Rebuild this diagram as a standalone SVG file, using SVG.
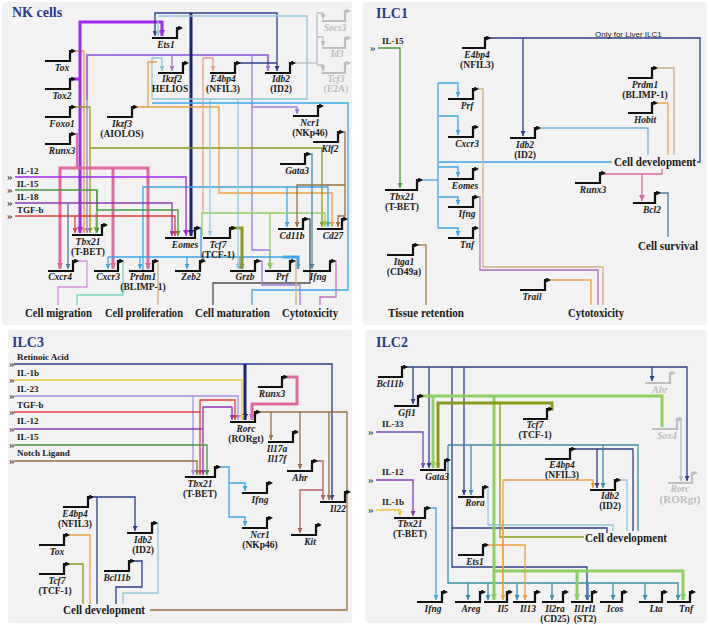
<svg xmlns="http://www.w3.org/2000/svg" width="709" height="625" viewBox="0 0 709 625">
<defs>
<marker id="pa" viewBox="0 0 6 6" refX="1" refY="3" markerWidth="5" markerHeight="5" markerUnits="userSpaceOnUse" orient="auto"><path d="M0,0L6,3L0,6z" fill="#111"/></marker>
<marker id="pg" viewBox="0 0 6 6" refX="1" refY="3" markerWidth="5" markerHeight="5" markerUnits="userSpaceOnUse" orient="auto"><path d="M0,0L6,3L0,6z" fill="#bdbdbd"/></marker>
<marker id="m-navy" viewBox="0 0 6 6" refX="6" refY="3" markerWidth="5" markerHeight="5" markerUnits="userSpaceOnUse" orient="auto"><path d="M0,0L6,3L0,6z" fill="#2c3e8c"/></marker>
<marker id="m-dnavy" viewBox="0 0 6 6" refX="6" refY="3" markerWidth="6" markerHeight="6" markerUnits="userSpaceOnUse" orient="auto"><path d="M0,0L6,3L0,6z" fill="#1b2470"/></marker>
<marker id="m-lb" viewBox="0 0 6 6" refX="6" refY="3" markerWidth="5" markerHeight="5" markerUnits="userSpaceOnUse" orient="auto"><path d="M0,0L6,3L0,6z" fill="#3ea6e6"/></marker>
<marker id="m-pb" viewBox="0 0 6 6" refX="6" refY="3" markerWidth="5" markerHeight="5" markerUnits="userSpaceOnUse" orient="auto"><path d="M0,0L6,3L0,6z" fill="#8ec8d8"/></marker>
<marker id="m-or" viewBox="0 0 6 6" refX="6" refY="3" markerWidth="5" markerHeight="5" markerUnits="userSpaceOnUse" orient="auto"><path d="M0,0L6,3L0,6z" fill="#f0a040"/></marker>
<marker id="m-ol" viewBox="0 0 6 6" refX="6" refY="3" markerWidth="5" markerHeight="5" markerUnits="userSpaceOnUse" orient="auto"><path d="M0,0L6,3L0,6z" fill="#8a9a1a"/></marker>
<marker id="m-pk" viewBox="0 0 6 6" refX="6" refY="3" markerWidth="6" markerHeight="6" markerUnits="userSpaceOnUse" orient="auto"><path d="M0,0L6,3L0,6z" fill="#e06aa0"/></marker>
<marker id="m-vi" viewBox="0 0 6 6" refX="6" refY="3" markerWidth="6" markerHeight="6" markerUnits="userSpaceOnUse" orient="auto"><path d="M0,0L6,3L0,6z" fill="#a028f0"/></marker>
<marker id="m-li" viewBox="0 0 6 6" refX="6" refY="3" markerWidth="5" markerHeight="5" markerUnits="userSpaceOnUse" orient="auto"><path d="M0,0L6,3L0,6z" fill="#a078e0"/></marker>
<marker id="m-rd" viewBox="0 0 6 6" refX="6" refY="3" markerWidth="5" markerHeight="5" markerUnits="userSpaceOnUse" orient="auto"><path d="M0,0L6,3L0,6z" fill="#e03c3c"/></marker>
<marker id="m-gn" viewBox="0 0 6 6" refX="6" refY="3" markerWidth="5" markerHeight="5" markerUnits="userSpaceOnUse" orient="auto"><path d="M0,0L6,3L0,6z" fill="#4a9a3a"/></marker>
<marker id="m-pu" viewBox="0 0 6 6" refX="6" refY="3" markerWidth="5" markerHeight="5" markerUnits="userSpaceOnUse" orient="auto"><path d="M0,0L6,3L0,6z" fill="#8a3ab8"/></marker>
<marker id="m-br" viewBox="0 0 6 6" refX="6" refY="3" markerWidth="5" markerHeight="5" markerUnits="userSpaceOnUse" orient="auto"><path d="M0,0L6,3L0,6z" fill="#9a7040"/></marker>
<marker id="m-tn" viewBox="0 0 6 6" refX="6" refY="3" markerWidth="5" markerHeight="5" markerUnits="userSpaceOnUse" orient="auto"><path d="M0,0L6,3L0,6z" fill="#d0b080"/></marker>
<marker id="m-gy" viewBox="0 0 6 6" refX="6" refY="3" markerWidth="5" markerHeight="5" markerUnits="userSpaceOnUse" orient="auto"><path d="M0,0L6,3L0,6z" fill="#b8bcc4"/></marker>
<marker id="m-lg" viewBox="0 0 6 6" refX="6" refY="3" markerWidth="6" markerHeight="6" markerUnits="userSpaceOnUse" orient="auto"><path d="M0,0L6,3L0,6z" fill="#8ed060"/></marker>
<marker id="m-tl" viewBox="0 0 6 6" refX="6" refY="3" markerWidth="5" markerHeight="5" markerUnits="userSpaceOnUse" orient="auto"><path d="M0,0L6,3L0,6z" fill="#3a90a8"/></marker>
<marker id="m-ye" viewBox="0 0 6 6" refX="6" refY="3" markerWidth="5" markerHeight="5" markerUnits="userSpaceOnUse" orient="auto"><path d="M0,0L6,3L0,6z" fill="#f0c840"/></marker>
<marker id="m-mv" viewBox="0 0 6 6" refX="6" refY="3" markerWidth="5" markerHeight="5" markerUnits="userSpaceOnUse" orient="auto"><path d="M0,0L6,3L0,6z" fill="#b06060"/></marker>
<marker id="m-dg" viewBox="0 0 6 6" refX="6" refY="3" markerWidth="5" markerHeight="5" markerUnits="userSpaceOnUse" orient="auto"><path d="M0,0L6,3L0,6z" fill="#505050"/></marker>
<marker id="m-sa" viewBox="0 0 6 6" refX="6" refY="3" markerWidth="5" markerHeight="5" markerUnits="userSpaceOnUse" orient="auto"><path d="M0,0L6,3L0,6z" fill="#eaa08a"/></marker>
<marker id="m-lv" viewBox="0 0 6 6" refX="6" refY="3" markerWidth="5" markerHeight="5" markerUnits="userSpaceOnUse" orient="auto"><path d="M0,0L6,3L0,6z" fill="#a58ee8"/></marker>
<marker id="m-st" viewBox="0 0 6 6" refX="6" refY="3" markerWidth="5" markerHeight="5" markerUnits="userSpaceOnUse" orient="auto"><path d="M0,0L6,3L0,6z" fill="#4a7fa0"/></marker>
<marker id="m-ip" viewBox="0 0 6 6" refX="6" refY="3" markerWidth="5" markerHeight="5" markerUnits="userSpaceOnUse" orient="auto"><path d="M0,0L6,3L0,6z" fill="#7050b0"/></marker>
</defs>
<style>
text{font-family:"Liberation Serif","Times New Roman",serif;font-weight:bold;fill:#1a1a1a}
.bg{fill:#f2f2f2}
.g{fill:none;stroke:#111;stroke-width:2.2;marker-end:url(#pa)}
.gg{fill:none;stroke:#bdbdbd;stroke-width:2.2;marker-end:url(#pg)}
.gl{font-style:italic;font-size:9.5px;text-anchor:middle}
.gp{font-size:9.5px;text-anchor:middle}
.gt{fill:#bdbdbd}
.ttl{font-size:14px;fill:#2a3a8a}
.out{font-size:12px}
.out2{font-size:13px}
.in{font-size:9px}
.ch{font-size:11px;font-weight:normal}
.sans{font-family:"Liberation Sans",Arial,sans-serif;font-size:8px;font-weight:normal}
.c path{fill:none;stroke-width:1.3}
.navy{stroke:#2c3e8c;marker-end:url(#m-navy)}
.dnavy{stroke:#1b2470;marker-end:url(#m-dnavy)}
.lb{stroke:#3ea6e6;marker-end:url(#m-lb)}
.pb{stroke:#8ec8d8;marker-end:url(#m-pb)}
.or{stroke:#f0a040;marker-end:url(#m-or)}
.ol{stroke:#8a9a1a;marker-end:url(#m-ol)}
.pk{stroke:#e06aa0;marker-end:url(#m-pk)}
.vi{stroke:#a028f0;marker-end:url(#m-vi)}
.li{stroke:#a078e0;marker-end:url(#m-li)}
.rd{stroke:#e03c3c;marker-end:url(#m-rd)}
.gn{stroke:#4a9a3a;marker-end:url(#m-gn)}
.pu{stroke:#8a3ab8;marker-end:url(#m-pu)}
.br{stroke:#9a7040;marker-end:url(#m-br)}
.tn{stroke:#d0b080;marker-end:url(#m-tn)}
.gy{stroke:#b8bcc4;marker-end:url(#m-gy)}
.lg{stroke:#8ed060;marker-end:url(#m-lg)}
.tl{stroke:#3a90a8;marker-end:url(#m-tl)}
.ye{stroke:#f0c840;marker-end:url(#m-ye)}
.mv{stroke:#b06060;marker-end:url(#m-mv)}
.dg{stroke:#505050;marker-end:url(#m-dg)}
.sa{stroke:#eaa08a;marker-end:url(#m-sa)}
.lv{stroke:#a58ee8;marker-end:url(#m-lv)}
.st{stroke:#4a7fa0;marker-end:url(#m-st)}
.ip{stroke:#7050b0;marker-end:url(#m-ip)}
.c .w3{stroke-width:3}
.c .w2{stroke-width:2.2}
.c .n{marker-end:none}
</style>
<rect width="709" height="625" fill="#fff"/>
<rect class="bg" x="2" y="2" width="350" height="323" rx="3"/>
<rect class="bg" x="363" y="2" width="344" height="323" rx="3"/>
<rect class="bg" x="8" y="330" width="344" height="293" rx="3"/>
<rect class="bg" x="365" y="330" width="342" height="293" rx="3"/>

<!-- ===== NK cells connectors ===== -->
<g id="nk-connectors" class="c">
<path class="or" d="M73,51H84V233"/>
<path class="vi w3 n" d="M73,79H80"/>
<path class="vi w3" d="M80,60V233"/>
<path class="vi w3" d="M80,60V22H162V36"/>
<path class="ol" d="M73,107H90V233"/>
<path class="pk w2 n" d="M73,134H77V168"/>
<path class="pk w3" d="M77,168H60V269"/>
<path class="pk w3" d="M77,168H148V269"/>
<path class="pk w3" d="M113,168V269"/>
<path class="li" d="M87,100V233"/>
<path class="li w2" d="M87,100V55H268V71"/>
<path class="li" d="M172,55V71"/>
<path class="li" d="M252,55V107H297V114"/>
<path class="li" d="M252,107V250H270V269"/>
<path class="navy" d="M155,20V36"/>
<path class="navy" d="M155,20V13H277V71"/>
<path class="navy n" d="M237,63H277"/>
<path class="dnavy w3" d="M191,13V236"/>
<path class="pb" d="M158,20V36"/>
<path class="pb" d="M158,16H307V99H152V58H162V71"/>
<path class="gy n" d="M292,63H317"/>
<path class="gy n" d="M317,13V65"/>
<path class="gy" d="M317,13H323V19"/>
<path class="gy" d="M317,37H323V46"/>
<path class="gy" d="M317,65H323V71"/>
<path class="sa" d="M203,213V58H213V71"/>
<path class="or" d="M134,107H219V193H332V227"/>
<path class="or n" d="M148,107V62H157"/>
<path class="ol" d="M90,148H322V227"/>
<path class="lb" d="M143,270V187H328V227"/>
<path class="lb" d="M287,187V227"/>
<path class="lg" d="M202,236V213H325V227"/>
<path class="lg" d="M270,213V269"/>
<path class="lg" d="M96,213V233"/>
<path class="gn" d="M15,190H97V233"/>
<path class="gn" d="M97,190V210H178V236"/>
<path class="vi" d="M15,177H186V236"/>
<path class="pu" d="M15,203H172V236"/>
<path class="rd" d="M15,216H175V236"/>
<path class="rd" d="M75,216V233"/>
<path class="st" d="M68,203V269"/>
<path class="br" d="M340,132H345V185H297V227"/>
<path class="br" d="M345,185V216H338V227"/>
<path class="tl" d="M307,154H312V269"/>
<path class="lb n" d="M197,228H201V257"/>
<path class="lb n" d="M108,257H290"/>
<path class="lb" d="M187,257V269"/>
<path class="lb" d="M140,257V269"/>
<path class="lb" d="M108,257V269"/>
<path class="lb" d="M240,257V269"/>
<path class="lb w3" d="M283,257H298V269"/>
<path class="ol w3" d="M232,228H242V269"/>
<path class="pb" d="M210,99V236"/>
<path class="pb" d="M238,99V269"/>
<path class="lb n" d="M152,103H348V290H252V305"/>
<path class="li n" d="M75,261H87V287H58V305" style="stroke:#d890e0"/>
<path class="tl n" d="M120,261H123V295H77V305" style="stroke:#78d8b8"/>
<path class="tn n" d="M155,261H158V305"/>
<path class="dg n" d="M305,219H310V283H213V305"/>
<path class="li n" d="M257,261H262V285H300V305"/>
<path class="tn n" d="M292,261H296V305"/>
<path class="pu n" d="M332,261H336V297H320V305" style="stroke:#c070c8"/>
</g>

<!-- NK nodes -->
<g id="nk-title"><text class="ttl" x="12" y="17">NK cells</text></g>
<g id="nk-il12"><text class="ch" x="7" y="180">»</text><text class="in" x="17" y="174">IL-12</text></g>
<g id="nk-il15"><text class="ch" x="7" y="193">»</text><text class="in" x="17" y="187">IL-15</text></g>
<g id="nk-il18"><text class="ch" x="7" y="206">»</text><text class="in" x="17" y="200">IL-18</text></g>
<g id="nk-tgfb"><text class="ch" x="7" y="219">»</text><text class="in" x="17" y="213">TGF-b</text></g>
<g id="nk-tox"><path class="g" d="M45,61H70V51H72"/><text class="gl" x="62" y="71">Tox</text></g>
<g id="nk-tox2"><path class="g" d="M45,89H70V79H72"/><text class="gl" x="62" y="99">Tox2</text></g>
<g id="nk-foxo1"><path class="g" d="M45,117H70V107H72"/><text class="gl" x="62" y="127">Foxo1</text></g>
<g id="nk-runx3"><path class="g" d="M45,144H70V134H72"/><text class="gl" x="62" y="154">Runx3</text></g>
<g id="nk-ikzf3"><path class="g" d="M107,117H132V107H134"/><text class="gl" x="122" y="127">Ikzf3</text><text class="gp" x="122" y="137">(AIOLOS)</text></g>
<g id="nk-ets1"><path class="g" d="M152,38H177V28H179"/><text class="gl" x="166" y="48">Ets1</text></g>
<g id="nk-ikzf2"><path class="g" d="M158,73H183V63H185"/><text class="gl" x="172" y="82">Ikzf2</text><text class="gp" x="170" y="92">HELIOS</text></g>
<g id="nk-e4bp4"><path class="g" d="M210,73H235V63H237"/><text class="gl" x="223" y="82">E4bp4</text><text class="gp" x="223" y="92">(NFIL3)</text></g>
<g id="nk-idb2"><path class="g" d="M265,73H290V63H292"/><text class="gl" x="281" y="82">Idb2</text><text class="gp" x="281" y="92">(ID2)</text></g>
<g id="nk-socs3"><path class="gg" d="M322,21H345V11H347"/><text class="gl gt" x="335" y="31">Socs3</text></g>
<g id="nk-id3"><path class="gg" d="M322,48H345V38H347"/><text class="gl gt" x="337" y="57">Id3</text></g>
<g id="nk-tcf3"><path class="gg" d="M322,73H345V63H347"/><text class="gl gt" x="336" y="82">Tcf3</text><text class="gp gt" x="336" y="92">(E2A)</text></g>
<g id="nk-ncr1"><path class="g" d="M293,116H318V106H320"/><text class="gl" x="310" y="126">Ncr1</text><text class="gp" x="310" y="136">(NKp46)</text></g>
<g id="nk-klf2"><path class="g" d="M313,142H338V132H340"/><text class="gl" x="330" y="152">Klf2</text></g>
<g id="nk-gata3"><path class="g" d="M280,164H305V154H307"/><text class="gl" x="297" y="174">Gata3</text></g>
<g id="nk-tbx21"><path class="g" d="M72,235H102V225H104"/><text class="gl" x="88" y="245">Tbx21</text><text class="gp" x="88" y="255">(T-BET)</text></g>
<g id="nk-eomes"><path class="g" d="M165,238H195V228H197"/><text class="gl" x="185" y="248">Eomes</text></g>
<g id="nk-tcf7"><path class="g" d="M203,238H230V228H232"/><text class="gl" x="218" y="248">Tcf7</text><text class="gp" x="218" y="258">(TCF-1)</text></g>
<g id="nk-cd11b"><path class="g" d="M278,229H303V219H305"/><text class="gl" x="292" y="239">Cd11b</text></g>
<g id="nk-cd27"><path class="g" d="M317,229H342V219H344"/><text class="gl" x="333" y="239">Cd27</text></g>
<g id="nk-cxcr4"><path class="g" d="M48,271H73V261H75"/><text class="gl" x="60" y="280">Cxcr4</text></g>
<g id="nk-cxcr3"><path class="g" d="M94,271H118V261H120"/><text class="gl" x="108" y="280">Cxcr3</text></g>
<g id="nk-prdm1"><path class="g" d="M129,271H153V261H155"/><text class="gl" x="143" y="280">Prdm1</text><text class="gp" x="143" y="290">(BLIMP-1)</text></g>
<g id="nk-zeb2"><path class="g" d="M175,271H200V261H202"/><text class="gl" x="191" y="280">Zeb2</text></g>
<g id="nk-grzb"><path class="g" d="M230,271H255V261H257"/><text class="gl" x="245" y="280">Grzb</text></g>
<g id="nk-prf"><path class="g" d="M265,271H290V261H292"/><text class="gl" x="282" y="280">Prf</text></g>
<g id="nk-ifng"><path class="g" d="M303,271H330V261H332"/><text class="gl" x="318" y="280">Ifng</text></g>
<g id="nk-migration"><text class="out" x="25" y="317" textLength="67" lengthAdjust="spacingAndGlyphs">Cell migration</text></g>
<g id="nk-prolif"><text class="out" x="105" y="317" textLength="78" lengthAdjust="spacingAndGlyphs">Cell proliferation</text></g>
<g id="nk-matur"><text class="out" x="195" y="317" textLength="75" lengthAdjust="spacingAndGlyphs">Cell maturation</text></g>
<g id="nk-cyto"><text class="out" x="282" y="317" textLength="56" lengthAdjust="spacingAndGlyphs">Cytotoxicity</text></g>

<!-- ===== ILC1 ===== -->
<g id="ilc1-connectors" class="c">
<path class="gn" d="M378,48H400V188"/>
<path class="lb n" d="M421,180H438"/>
<path class="lb n" d="M438,83V228"/>
<path class="lb" d="M438,83H458V97"/>
<path class="lb" d="M438,116H458V135"/>
<path class="lb n" d="M438,162H612"/>
<path class="lb" d="M438,167H458V177"/>
<path class="lb" d="M438,197H458V205"/>
<path class="lb" d="M438,228H458V236"/>
<path class="navy n" d="M489,38H700V162H697"/>
<path class="navy" d="M523,38V136"/>
<path class="tn n" d="M478,89H483V267H603V305"/>
<path class="pu n" d="M478,197H480V270H598V305" style="stroke:#b070c0"/>
<path class="or n" d="M550,280H591V305"/>
<path class="br n" d="M416,245H426V305" style="stroke:#a08050"/>
<path class="pb n" d="M540,128H648V155" style="stroke:#6cb8d8"/>
<path class="tn n" d="M657,68H674V155"/>
<path class="or n" d="M657,103H668V155"/>
<path class="pk n" d="M603,174H662V169"/>
<path class="pk" d="M642,174V201"/>
<path class="st n" d="M658,193H668V237"/>
</g>
<g id="ilc1-title"><text class="ttl" x="376" y="18">ILC1</text></g>
<g id="ilc1-note"><text class="sans" x="595" y="37">Only for Liver ILC1</text></g>
<g id="ilc1-il15"><text class="ch" x="370" y="51">»</text><text class="in" x="382" y="44">IL-15</text></g>
<g id="ilc1-e4bp4"><path class="g" d="M462,48H485V38H487"/><text class="gl" x="477" y="58">E4bp4</text><text class="gp" x="477" y="68">(NFIL3)</text></g>
<g id="ilc1-prdm1"><path class="g" d="M628,78H652V68H654"/><text class="gl" x="645" y="88">Prdm1</text><text class="gp" x="645" y="98">(BLIMP-1)</text></g>
<g id="ilc1-hobit"><path class="g" d="M628,113H652V103H654"/><text class="gl" x="645" y="123">Hobit</text></g>
<g id="ilc1-prf"><path class="g" d="M448,99H473V89H475"/><text class="gl" x="467" y="109">Prf</text></g>
<g id="ilc1-cxcr3"><path class="g" d="M448,137H473V127H475"/><text class="gl" x="467" y="147">Cxcr3</text></g>
<g id="ilc1-idb2"><path class="g" d="M510,138H535V128H537"/><text class="gl" x="525" y="148">Idb2</text><text class="gp" x="525" y="158">(ID2)</text></g>
<g id="ilc1-tbx21"><path class="g" d="M385,190H417V180H419"/><text class="gl" x="402" y="200">Tbx21</text><text class="gp" x="402" y="210">(T-BET)</text></g>
<g id="ilc1-eomes"><path class="g" d="M448,179H473V169H475"/><text class="gl" x="465" y="189">Eomes</text></g>
<g id="ilc1-ifng"><path class="g" d="M448,207H473V197H475"/><text class="gl" x="467" y="217">Ifng</text></g>
<g id="ilc1-tnf"><path class="g" d="M448,238H473V228H475"/><text class="gl" x="467" y="248">Tnf</text></g>
<g id="ilc1-runx3"><path class="g" d="M575,183H600V173H602"/><text class="gl" x="593" y="193">Runx3</text></g>
<g id="ilc1-bcl2"><path class="g" d="M633,203H655V193H657"/><text class="gl" x="652" y="213">Bcl2</text></g>
<g id="ilc1-itga1"><path class="g" d="M387,255H413V245H415"/><text class="gl" x="404" y="265">Itga1</text><text class="gp" x="404" y="275">(CD49a)</text></g>
<g id="ilc1-trail"><path class="g" d="M520,290H545V280H547"/><text class="gl" x="532" y="300">Trail</text></g>
<g id="ilc1-celldev"><text class="out2" x="614" y="166" textLength="82" lengthAdjust="spacingAndGlyphs">Cell development</text></g>
<g id="ilc1-survival"><text class="out2" x="638" y="250" textLength="60" lengthAdjust="spacingAndGlyphs">Cell survival</text></g>
<g id="ilc1-tissue"><text class="out" x="388" y="317" textLength="76" lengthAdjust="spacingAndGlyphs">Tissue retention</text></g>
<g id="ilc1-cyto"><text class="out" x="568" y="317" textLength="56" lengthAdjust="spacingAndGlyphs">Cytotoxicity</text></g>

<!-- ===== ILC3 ===== -->
<g id="ilc3-connectors" class="c">
<path class="navy" d="M14,364H332V500"/>
<path class="dnavy w3" d="M245,364V420"/>
<path class="ye" d="M14,380H242V420"/>
<path class="lv" d="M14,396H238V420"/>
<path class="lv" d="M193,396V475"/>
<path class="rd" d="M14,412H200V475"/>
<path class="rd" d="M200,412V400H235V420"/>
<path class="pu" d="M14,429H203V475"/>
<path class="pu" d="M203,429V407H232V420"/>
<path class="gn" d="M14,445H207V475"/>
<path class="br" d="M14,461H197V475"/>
<path class="pk w3" d="M284,377H297V404H252V420"/>
<path class="br n" d="M257,412H347V610H150"/>
<path class="br" d="M271,412V440"/>
<path class="br" d="M300,412V469"/>
<path class="br" d="M329,412V500"/>
<path class="mv" d="M314,461H323V500"/>
<path class="mv" d="M323,490H300V533"/>
<path class="lb" d="M217,467H229V517H245V526"/>
<path class="lb" d="M229,483H245V491"/>
<path class="navy" d="M90,497H135V531"/>
<path class="navy n" d="M97,497V604"/>
<path class="pb n" d="M154,523H158V593H123V604"/>
<path class="or n" d="M66,535H90V604"/>
<path class="ol n" d="M66,564H83V604"/>
<path class="navy n" d="M131,561H142V587H116V604"/>
</g>
<g id="ilc3-title"><text class="ttl" x="12" y="347">ILC3</text></g>
<g id="ilc3-ra"><text class="ch" x="9" y="367">»</text><text class="in" x="17" y="360">Retinoic Acid</text></g>
<g id="ilc3-il1b"><text class="ch" x="9" y="383">»</text><text class="in" x="17" y="376">IL-1b</text></g>
<g id="ilc3-il23"><text class="ch" x="9" y="399">»</text><text class="in" x="17" y="392">IL-23</text></g>
<g id="ilc3-tgfb"><text class="ch" x="9" y="415">»</text><text class="in" x="17" y="408">TGF-b</text></g>
<g id="ilc3-il12"><text class="ch" x="9" y="432">»</text><text class="in" x="17" y="424">IL-12</text></g>
<g id="ilc3-il15"><text class="ch" x="9" y="448">»</text><text class="in" x="17" y="440">IL-15</text></g>
<g id="ilc3-notch"><text class="ch" x="9" y="464">»</text><text class="in" x="17" y="456">Notch Ligand</text></g>
<g id="ilc3-rorc"><path class="g" d="M230,422H255V412H257"/><text class="gl" x="246" y="432">Rorc</text><text class="gp" x="246" y="442">(RORgt)</text></g>
<g id="ilc3-runx3"><path class="g" d="M258,387H282V377H284"/><text class="gl" x="272" y="397">Runx3</text></g>
<g id="ilc3-il17"><path class="g" d="M268,442H293V432H295"/><text class="gl" x="277" y="452">Il17a</text><text class="gl" x="277" y="462">Il17f</text></g>
<g id="ilc3-ahr"><path class="g" d="M287,471H312V461H314"/><text class="gl" x="300" y="481">Ahr</text></g>
<g id="ilc3-il22"><path class="g" d="M320,502H345V492H347"/><text class="gl" x="338" y="512">Il22</text></g>
<g id="ilc3-kit"><path class="g" d="M291,535H316V525H318"/><text class="gl" x="310" y="545">Kit</text></g>
<g id="ilc3-tbx21"><path class="g" d="M185,477H215V467H217"/><text class="gl" x="200" y="487">Tbx21</text><text class="gp" x="200" y="497">(T-BET)</text></g>
<g id="ilc3-ifng"><path class="g" d="M242,493H267V483H269"/><text class="gl" x="260" y="503">Ifng</text></g>
<g id="ilc3-ncr1"><path class="g" d="M242,528H267V518H269"/><text class="gl" x="260" y="538">Ncr1</text><text class="gp" x="260" y="548">(NKp46)</text></g>
<g id="ilc3-e4bp4"><path class="g" d="M63,507H88V497H90"/><text class="gl" x="75" y="517">E4bp4</text><text class="gp" x="75" y="527">(NFIL3)</text></g>
<g id="ilc3-idb2"><path class="g" d="M127,533H152V523H154"/><text class="gl" x="143" y="543">Idb2</text><text class="gp" x="143" y="553">(ID2)</text></g>
<g id="ilc3-tox"><path class="g" d="M39,545H64V535H66"/><text class="gl" x="57" y="555">Tox</text></g>
<g id="ilc3-tcf7"><path class="g" d="M39,574H64V564H66"/><text class="gl" x="57" y="584">Tcf7</text><text class="gp" x="55" y="594">(TCF-1)</text></g>
<g id="ilc3-bcl11b"><path class="g" d="M104,571H129V561H131"/><text class="gl" x="117" y="581">Bcl11b</text></g>
<g id="ilc3-celldev"><text class="out2" x="63" y="614" textLength="82" lengthAdjust="spacingAndGlyphs">Cell development</text></g>

<!-- ===== ILC2 ===== -->
<g id="ilc2-connectors" class="c">
<path class="navy" d="M404,367H687V481"/>
<path class="navy" d="M413,367V404"/>
<path class="navy" d="M429,367V468"/>
<path class="navy" d="M464,367V495"/>
<path class="navy" d="M652,367V381"/>
<path class="navy" d="M452,367V567H587V600"/>
<path class="navy n" d="M452,528H607V533"/>
<path class="navy n" d="M572,449H633V531"/>
<path class="navy" d="M597,449V488"/>
<path class="tl n" d="M447,460H448"/>
<path class="tl" d="M448,445V583H678V600"/>
<path class="tl n" d="M448,445H638V531"/>
<path class="tl" d="M471,445V495"/>
<path class="tl" d="M603,445V488"/>
<path class="tl" d="M468,583V600"/>
<path class="tl" d="M488,583V600"/>
<path class="tl" d="M517,583V600"/>
<path class="tl" d="M552,583V600"/>
<path class="tl" d="M588,583V600"/>
<path class="tl" d="M613,583V600"/>
<path class="tl" d="M645,583V600"/>
<path class="lg w3 n" d="M420,396H662V427"/>
<path class="lg w3" d="M433,396V468"/>
<path class="lg w3" d="M494,396V600"/>
<path class="lg w3" d="M494,571H683V600"/>
<path class="lg w3" d="M577,571V600"/>
<path class="ol w3" d="M549,409H552V403H438V468"/>
<path class="ol n" d="M500,403V537H584"/>
<path class="ip" d="M376,432H423V468"/>
<path class="pu" d="M376,480H413V516"/>
<path class="ye" d="M376,510H400V516"/>
<path class="lb" d="M427,508H436V600"/>
<path class="pb n" d="M485,487H488V525H613V531"/>
<path class="pb n" d="M617,480H627V531"/>
<path class="or" d="M503,600V480H593V488"/>
<path class="or" d="M503,520V600"/>
<path class="or" d="M485,545H525V600"/>
<path class="gy" d="M679,419H681V481"/>
</g>
<g id="ilc2-title"><text class="ttl" x="376" y="347">ILC2</text></g>
<g id="ilc2-il33"><text class="ch" x="368" y="435">»</text><text class="in" x="382" y="427">IL-33</text></g>
<g id="ilc2-il12"><text class="ch" x="368" y="483">»</text><text class="in" x="382" y="475">IL-12</text></g>
<g id="ilc2-il1b"><text class="ch" x="368" y="513">»</text><text class="in" x="382" y="505">IL-1b</text></g>
<g id="ilc2-bcl11b"><path class="g" d="M378,377H402V367H404"/><text class="gl" x="390" y="387">Bcl11b</text></g>
<g id="ilc2-gfi1"><path class="g" d="M394,406H418V396H420"/><text class="gl" x="407" y="416">Gfi1</text></g>
<g id="ilc2-tcf7"><path class="g" d="M523,419H547V409H549"/><text class="gl" x="535" y="428">Tcf7</text><text class="gp" x="535" y="438">(TCF-1)</text></g>
<g id="ilc2-ahr"><path class="gg" d="M645,383H670V373H672"/><text class="gl gt" x="660" y="393">Ahr</text></g>
<g id="ilc2-sox4"><path class="gg" d="M652,429H677V419H679"/><text class="gl gt" x="667" y="439">Sox4</text></g>
<g id="ilc2-e4bp4"><path class="g" d="M545,459H570V449H572"/><text class="gl" x="562" y="468">E4bp4</text><text class="gp" x="562" y="478">(NFIL3)</text></g>
<g id="ilc2-gata3"><path class="g" d="M420,470H445V460H447"/><text class="gl" x="437" y="480">Gata3</text></g>
<g id="ilc2-tbx21"><path class="g" d="M394,518H425V508H427"/><text class="gl" x="410" y="527">Tbx21</text><text class="gp" x="410" y="537">(T-BET)</text></g>
<g id="ilc2-rora"><path class="g" d="M458,497H483V487H485"/><text class="gl" x="475" y="506">Rora</text></g>
<g id="ilc2-idb2"><path class="g" d="M590,490H615V480H617"/><text class="gl" x="610" y="499">Idb2</text><text class="gp" x="610" y="509">(ID2)</text></g>
<g id="ilc2-ets1"><path class="g" d="M458,555H483V545H485"/><text class="gl" x="475" y="565">Ets1</text></g>
<g id="ilc2-rorc"><path class="gg" d="M668,483H692V473H694"/><text class="gl gt" x="680" y="492">Rorc</text><text class="gp gt" x="680" y="503" style="font-size:11px">(RORgt)</text></g>
<g id="ilc2-ifng"><path class="g" d="M417,602H442V592H444"/><text class="gl" x="433" y="612">Ifng</text></g>
<g id="ilc2-areg"><path class="g" d="M455,602H480V592H482"/><text class="gl" x="471" y="612">Areg</text></g>
<g id="ilc2-il5"><path class="g" d="M484,602H507V592H509"/><text class="gl" x="503" y="612">Il5</text></g>
<g id="ilc2-il13"><path class="g" d="M513,602H535V592H537"/><text class="gl" x="528" y="612">Il13</text></g>
<g id="ilc2-il2ra"><path class="g" d="M542,602H563V592H565"/><text class="gl" x="555" y="612">Il2ra</text><text class="gp" x="555" y="622">(CD25)</text></g>
<g id="ilc2-il1rl1"><path class="g" d="M571,602H592V592H594"/><text class="gl" x="585" y="612">Il1rl1</text><text class="gp" x="585" y="622">(ST2)</text></g>
<g id="ilc2-icos"><path class="g" d="M600,602H622V592H624"/><text class="gl" x="615" y="612">Icos</text></g>
<g id="ilc2-lta"><path class="g" d="M639,602H662V592H664"/><text class="gl" x="656" y="612">Lta</text></g>
<g id="ilc2-tnf"><path class="g" d="M667,602H690V592H692"/><text class="gl" x="686" y="612">Tnf</text></g>
<g id="ilc2-celldev"><text class="out2" x="585" y="542" textLength="82" lengthAdjust="spacingAndGlyphs">Cell development</text></g>
</svg>
